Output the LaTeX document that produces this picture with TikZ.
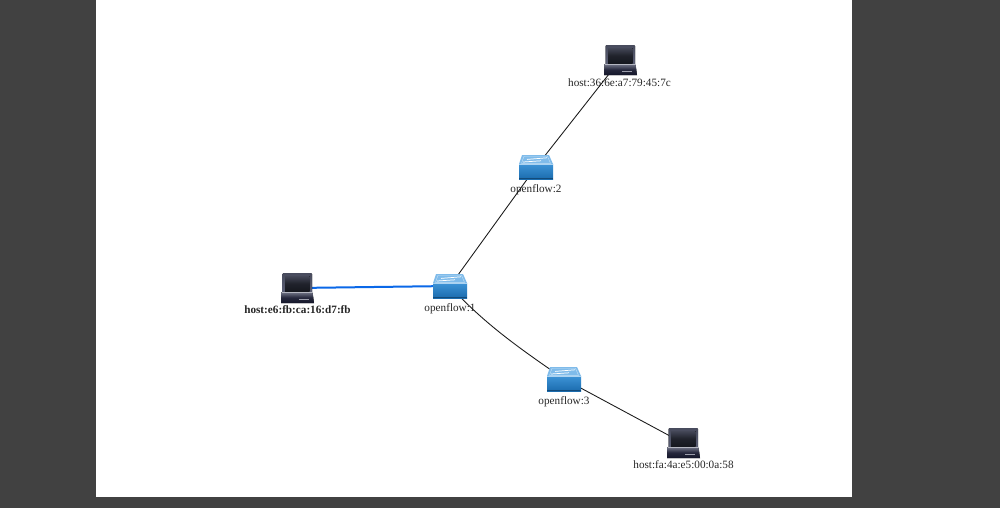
\documentclass[tikz,border=0pt]{standalone}
\usepackage{fontspec}
\setmainfont{Liberation Serif}
\definecolor{pagegrey}{HTML}{414141}
\definecolor{swblue}{HTML}{3D93D6}
\definecolor{swdark}{HTML}{1B6CAE}
\definecolor{swtop}{HTML}{7FBBEA}
\definecolor{scr}{HTML}{16181F}
\definecolor{body}{HTML}{5A5E74}
\definecolor{bodyd}{HTML}{14162A}
\definecolor{link}{HTML}{0A68E8}
\tikzset{
  x=0.75pt,y=-0.75pt,
  dev/.style={inner sep=0pt,minimum size=1pt},
  lab/.style={font=\fontsize{8.4pt}{9pt}\selectfont,text=black!85,inner sep=0pt,anchor=center},
  edge/.style={draw=black!90,line width=0.65pt},
  active/.style={draw=link,line width=1.5pt},
  switchicon/.pic={
    \fill[top color=swblue,bottom color=swdark] (-17,-3) rectangle (17,12);
    \fill[swdark!70!black] (-17,11.3) rectangle (17,12);
    \fill[swtop] (-17,-3) -- (-14,-12) -- (13,-12) -- (17,-3) -- cycle;
    \draw[white!55!swtop,line width=0.3pt] (-14.5,-3.6) -- (-12,-10.8) -- (11.5,-10.8) -- (14.5,-3.6) -- cycle;
    \draw[white,line width=0.55pt] (-13,-5) -- (5,-6.2) (-9,-7.6) -- (11,-9.2);
    \fill[white!35!swtop] (-17,-3) rectangle (17,-2);
  },
  hosticon/.pic={
    \fill[top color=body!80!black,bottom color=body,rounded corners=0.8pt] (-14.5,-15) rectangle (15,5);
    \fill[top color=body!75!black,bottom color=scr,middle color=scr!85!body] (-12,-12) rectangle (12.5,3);
    \fill[top color=body!85!white,bottom color=bodyd,middle color=bodyd!75!body] (-15.5,4) -- (15.5,4) -- (17,15) -- (-16,15) -- cycle;
    \fill[body!45!white] (-15.5,4) rectangle (15.5,5);
    \fill[body!60!white] (2,11) rectangle (12,12);
  }
}
\begin{document}
\begin{tikzpicture}
\useasboundingbox (0,0) rectangle (1000,508);
\fill[pagegrey] (0,0) rectangle (1000,508);
\fill[white] (96,0) rectangle (852,497);
\node[dev] (h1) at (297,288) {};
\node[dev] (h2) at (620,60) {};
\node[dev] (h3) at (683,443) {};
\node[dev] (s1) at (450,286) {};
\node[dev] (s2) at (536,167) {};
\node[dev] (s3) at (564,379) {};
\node[lab,font=\fontsize{8.4pt}{9pt}\selectfont\bfseries] (l1) at (297.5,310) {host:e6:fb:ca:16:d7:fb};
\node[lab] (l2) at (619.5,83) {host:36:6e:a7:79:45:7c};
\node[lab] (l3) at (683.5,465) {host:fa:4a:e5:00:0a:58};
\node[lab] (l4) at (450,309) {openflow:1};
\node[lab] (l5) at (536,190) {openflow:2};
\node[lab] (l6) at (564,402) {openflow:3};
\draw[edge] (h2.center) -- (s2.center);
\draw[edge] (s2.center) -- (s1.center);
\draw[edge] (s1.center) .. controls (485,325) and (525,352) .. (s3.center);
\draw[edge] (s3.center) -- (h3.center);
\draw[active] (h1.center) -- (s1.center);
\pic at (s1) {switchicon};
\pic at (s2) {switchicon};
\pic at (s3) {switchicon};
\pic at (h1) {hosticon};
\pic at (h2) {hosticon};
\pic at (h3) {hosticon};
\end{tikzpicture}
\end{document}
